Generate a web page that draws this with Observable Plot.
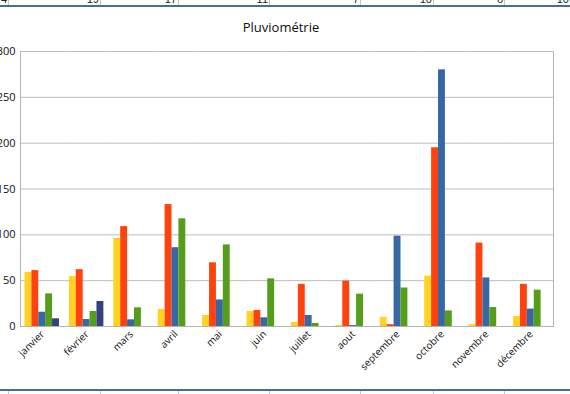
<!DOCTYPE html>
<html>
<head>
<meta charset="utf-8">
<script src="https://cdn.jsdelivr.net/npm/d3@7"></script>
<script src="https://cdn.jsdelivr.net/npm/@observablehq/plot@0.6"></script>
<style>
  html, body { margin: 0; padding: 0; background: #fff; }
  #wrap { position: relative; width: 570px; height: 394px; overflow: hidden; font-family: "Open Sans", sans-serif; background: #fff; }
  #chart { position: absolute; left: 0; top: 0; }
  #title { position: absolute; left: 0; width: 562px; top: 18px; text-align: center; font-size: 13px; color: #111; }
  .strip { position: absolute; left: 0; width: 570px; }
  .cell { position: absolute; top: 0; height: 100%; border-right: 1px solid #c6c6c6; box-sizing: border-box; }
  .num { position: absolute; right: 1px; top: -6px; font-size: 11px; line-height: 11px; color: #222; font-family: "Liberation Sans", sans-serif; }
  .bar { position: absolute; left: 0; width: 570px; height: 2px; background: #4a6c9b; }
</style>
</head>
<body>
<div id="wrap">
  <div id="chart"></div>
  <div id="title"></div>
  <div class="strip" id="topStrip" style="top:0;height:5px;overflow:hidden;"></div>
  <div class="bar" style="top:5px;"></div>
  <div class="bar" style="top:389px;"></div>
  <div class="strip" id="botStrip" style="top:391px;height:3px;overflow:hidden;"></div>
</div>
<script>
// ---- data ----
const titleText = "Pluviométrie";
const months = ["janvier", "février", "mars", "avril", "mai", "juin", "juillet", "aout", "septembre", "octobre", "novembre", "décembre"];
const series = ["Série 1", "Série 2", "Série 3", "Série 4", "Série 5"];
const serie1 = [59, 54.5, 96, 18.5, 12, 16.4, 4.4, 1, 10, 55, 2, 11];
const serie2 = [61, 62, 109, 133, 69.5, 17.5, 46, 49.5, 2, 195, 91, 46];
const serie3 = [15.6, 7.6, 7.3, 86, 29, 9.5, 12, 1, 98.5, 280, 53, 19];
const serie4 = [35.6, 16.4, 20.4, 117.5, 89, 52, 3.3, 35.3, 42, 17, 20.7, 39.6];
const serie5 = [8.4, 27.3, null, null, null, null, null, null, null, null, null, null];
const yTicks = [0, 50, 100, 150, 200, 250, 300];
// spreadsheet row numbers visible above the chart
const sheetNumbers = ["4", "19", "17", "11", "7", "10", "6", "10"];

// ---- layout / style ----
const colors = ["#ffd320", "#ff420e", "#3867a6", "#579d1c", "#363f80"];
const cellEdges = [0, 9, 101, 179, 270, 361, 434, 505, 571];

const values = [serie1, serie2, serie3, serie4, serie5];
const data = months.flatMap((m, i) =>
  values.map((vals, j) => ({ month: m, series: series[j], value: vals[i] }))
).filter(d => d.value != null);

const chart = Plot.plot({
  width: 570,
  height: 394,
  marginLeft: 20,
  marginRight: 17,
  marginTop: 51,
  marginBottom: 68,
  style: { background: "transparent", fontFamily: "Open Sans, sans-serif", color: "#111" },
  fx: { domain: months, padding: 0, round: false, label: null },
  x: { domain: series, paddingInner: 0, paddingOuter: 0.72, align: 0.45, round: false, axis: null },
  y: { domain: [0, 300], label: null },
  color: { domain: series, range: colors },
  marks: [
    Plot.gridY({ ticks: yTicks, stroke: "#bdbdbd", strokeOpacity: 1 }),
    Plot.barY(data, { fx: "month", x: "series", y: "value", fill: "series", inset: 0 }),
    Plot.ruleY([0], { stroke: "#b3b3b3" }),
    Plot.frame({ anchor: "left", facetAnchor: "left", stroke: "#b3b3b3" }),
    Plot.frame({ anchor: "right", facetAnchor: "right", stroke: "#b3b3b3" }),
    Plot.axisY({ ticks: yTicks, tickSize: 0, tickPadding: 5, fontSize: 11, label: null }),
    Plot.axisFx({ anchor: "bottom", tickRotate: -45, tickSize: 0, tickPadding: 6, fontSize: 10, label: null })
  ]
});
document.getElementById("chart").appendChild(chart);
document.getElementById("title").textContent = titleText;

// spreadsheet strips
const topStrip = document.getElementById("topStrip");
const botStrip = document.getElementById("botStrip");
for (let i = 0; i < cellEdges.length - 1; i++) {
  const l = cellEdges[i], r = cellEdges[i + 1];
  for (const strip of [topStrip, botStrip]) {
    const c = document.createElement("div");
    c.className = "cell";
    c.style.left = l + "px";
    c.style.width = (r - l) + "px";
    if (strip === topStrip) {
      const n = document.createElement("span");
      n.className = "num";
      n.textContent = sheetNumbers[i];
      c.appendChild(n);
    }
    strip.appendChild(c);
  }
}
</script>
</body>
</html>
